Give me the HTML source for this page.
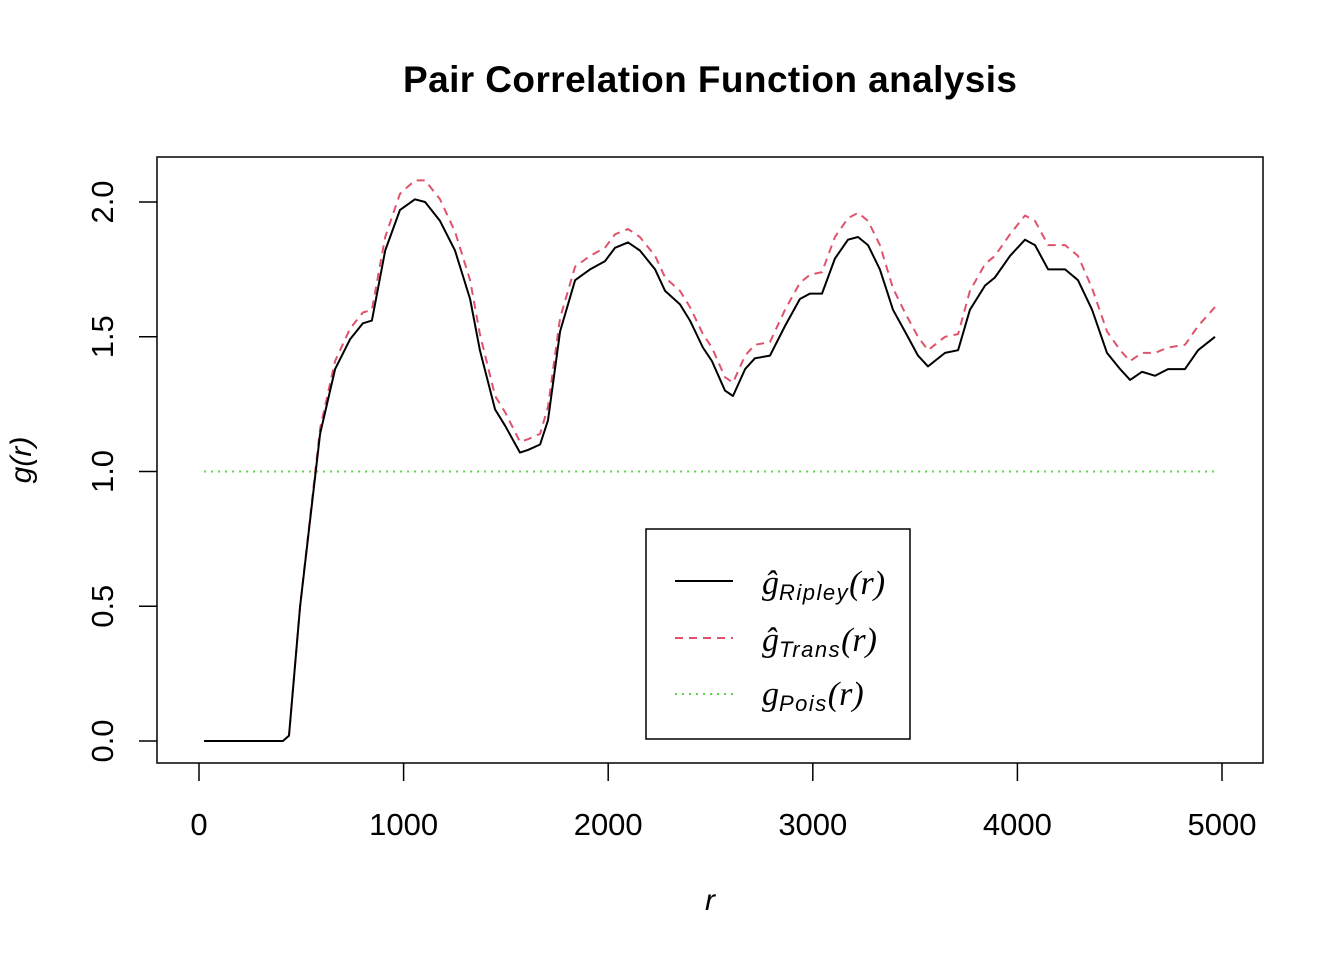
<!DOCTYPE html>
<html><head><meta charset="utf-8"><style>
body{margin:0;background:#fff}
svg{display:block;font-family:"Liberation Sans",Arial,sans-serif}
</style></head><body>
<svg id="c" width="1344" height="960">
<rect width="1344" height="960" fill="#fff"/>
<text x="710" y="92" text-anchor="middle" font-size="37" font-weight="bold" textLength="614">Pair Correlation Function analysis</text>
<rect x="157" y="157" width="1106" height="606" fill="none" stroke="#000" stroke-width="1.5"/>
<g id="xt"></g>
<g id="yt"></g>
<text x="710" y="910" text-anchor="middle" font-size="30" font-style="italic">r</text>
<text transform="translate(31,460) rotate(-90)" text-anchor="middle" font-size="30" font-style="italic">g(r)</text>
<g id="series"></g>
<g>
<rect x="646" y="529" width="264" height="210" fill="#fff" stroke="#000" stroke-width="1.5"/>
<line x1="675" y1="581" x2="733" y2="581" stroke="#000" stroke-width="2"/>
<text x="762" y="594" font-size="34" font-family="Liberation Serif,serif" font-style="italic">ĝ<tspan font-size="22" dy="6" font-family="Liberation Sans,sans-serif" letter-spacing="1.5">Ripley</tspan><tspan dy="-6">(r)</tspan></text>
<line x1="675" y1="638" x2="733" y2="638" stroke="#DF536B" stroke-width="2" stroke-dasharray="8,6"/>
<text x="762" y="651" font-size="34" font-family="Liberation Serif,serif" font-style="italic">ĝ<tspan font-size="22" dy="6" font-family="Liberation Sans,sans-serif" letter-spacing="1.5">Trans</tspan><tspan dy="-6">(r)</tspan></text>
<line x1="675" y1="694" x2="733" y2="694" stroke="#61D04F" stroke-width="2" stroke-dasharray="2,5"/>
<text x="762" y="705" font-size="34" font-family="Liberation Serif,serif" font-style="italic">g<tspan font-size="22" dy="6" font-family="Liberation Sans,sans-serif" letter-spacing="1.5">Pois</tspan><tspan dy="-6">(r)</tspan></text>
</g>
</svg>
<script>
const rVals=[25,410,440,494,543,592,665,738,801,845,910,982,1055,1105,1178,1251,1325,1373,1447,1496,1569,1608,1667,1706,1765,1838,1911,1984,2033,2097,2155,2229,2278,2351,2400,2463,2507,2571,2610,2669,2717,2791,2864,2937,2986,3045,3108,3172,3221,3270,3328,3392,3450,3514,3563,3646,3710,3768,3842,3890,3964,4037,4086,4150,4233,4296,4365,4438,4502,4551,4609,4673,4736,4819,4883,4966];
const ripley=[0,0,0.02,0.5,0.82,1.14,1.38,1.49,1.55,1.56,1.82,1.97,2.01,2.0,1.93,1.82,1.64,1.45,1.23,1.17,1.07,1.08,1.10,1.19,1.52,1.71,1.75,1.78,1.83,1.85,1.82,1.75,1.67,1.62,1.56,1.46,1.41,1.30,1.28,1.38,1.42,1.43,1.54,1.64,1.66,1.66,1.79,1.86,1.87,1.84,1.75,1.60,1.52,1.43,1.39,1.44,1.45,1.60,1.69,1.72,1.80,1.86,1.84,1.75,1.75,1.71,1.60,1.44,1.38,1.34,1.37,1.355,1.38,1.38,1.45,1.50];
const trans=[0,0,0.02,0.5,0.83,1.16,1.41,1.53,1.59,1.60,1.87,2.03,2.08,2.08,2.01,1.89,1.71,1.51,1.28,1.22,1.11,1.12,1.14,1.24,1.57,1.76,1.80,1.83,1.88,1.90,1.87,1.80,1.72,1.67,1.61,1.51,1.46,1.35,1.33,1.43,1.47,1.48,1.60,1.70,1.73,1.74,1.87,1.94,1.96,1.93,1.84,1.68,1.59,1.50,1.45,1.50,1.51,1.67,1.77,1.80,1.88,1.95,1.93,1.84,1.84,1.80,1.68,1.52,1.45,1.41,1.44,1.44,1.46,1.47,1.54,1.61];
const poisR=[25,4966];
const poisG=[1,1];
const xTicks=[0,1000,2000,3000,4000,5000];
const yTicks=[0,0.5,1,1.5,2];
const yLabels=["0.0","0.5","1.0","1.5","2.0"];
const X=v=>199+v*(1222-199)/5000;
const Y=v=>741-v*(741-202)/2;
const svg=document.getElementById('c'),NS='http://www.w3.org/2000/svg';
function mk(t,a,p){const e=document.createElementNS(NS,t);for(const k in a)e.setAttribute(k,a[k]);p.appendChild(e);return e;}
const xt=document.getElementById('xt'),yt=document.getElementById('yt');
xTicks.forEach(v=>{const l=mk('line',{x1:X(v),x2:X(v),y1:763,y2:781,stroke:'#000','stroke-width':1.5},xt);


const t=mk('text',{x:X(v),y:835,'text-anchor':'middle','font-size':31},xt);t.textContent=v;

});
yTicks.forEach((v,i)=>{const l=mk('line',{x1:139,x2:157,y1:Y(v),y2:Y(v),stroke:'#000','stroke-width':1.5},yt);


const t=mk('text',{transform:`translate(113,${Y(v)}) rotate(-90)`,'text-anchor':'middle','font-size':31},yt);t.textContent=yLabels[i];

});
const sg=document.getElementById('series');
function path(xs,ys,attrs,name){const d=xs.map((x,i)=>(i?'L':'M')+X(x).toFixed(1)+','+Y(ys[i]).toFixed(1)).join('');
const p=mk('path',Object.assign({d:d,fill:'none','stroke-width':2,'stroke-linejoin':'round'},attrs),sg);

}
path(poisR,poisG,{stroke:'#61D04F','stroke-dasharray':'2,5'},'pois-line');
path(rVals,trans,{stroke:'#DF536B','stroke-dasharray':'8,6'},'trans-line');
path(rVals,ripley,{stroke:'#000'},'ripley-line');
</script>
</body></html>
